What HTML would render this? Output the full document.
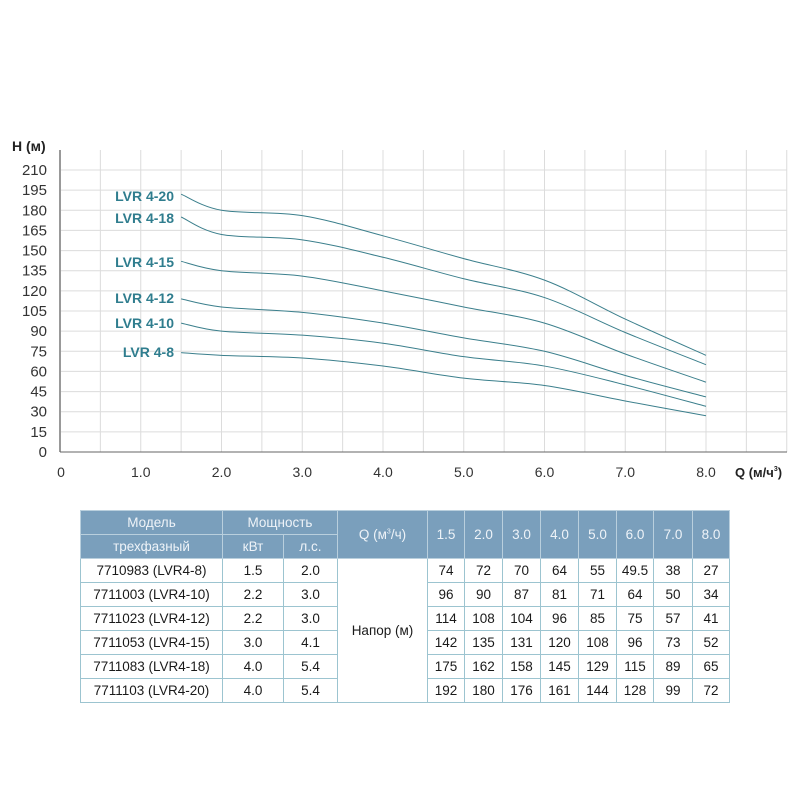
<!DOCTYPE html><html><head><meta charset="utf-8"><style>
body{margin:0;background:#fff;font-family:"Liberation Sans",sans-serif}
#c{position:absolute;left:0;top:0}
table{position:absolute;left:80px;top:510px;border-collapse:collapse;font-family:"Liberation Sans",sans-serif;font-size:13.5px;color:#1a1a1a}
td{border:1px solid #9cc4d0;text-align:center;padding:0;height:23px}
.h td{background:#7a9fbc;color:#eef3f8;border-color:#b9cfdd;height:23px}
</style></head><body>
<svg id="c" width="800" height="800" xmlns="http://www.w3.org/2000/svg"></svg>
<table>
<colgroup><col style="width:142px"><col style="width:61px"><col style="width:54px"><col style="width:90px"><col style="width:37px"><col style="width:38px"><col style="width:38px"><col style="width:38px"><col style="width:38px"><col style="width:37px"><col style="width:39px"><col style="width:37px"></colgroup>
<tr class="h"><td>Модель</td><td colspan="2">Мощность</td><td rowspan="2">Q (м<sup style="font-size:7px">3</sup>/ч)</td><td rowspan="2">1.5</td><td rowspan="2">2.0</td><td rowspan="2">3.0</td><td rowspan="2">4.0</td><td rowspan="2">5.0</td><td rowspan="2">6.0</td><td rowspan="2">7.0</td><td rowspan="2">8.0</td></tr>
<tr class="h"><td>трехфазный</td><td>кВт</td><td>л.с.</td></tr>
<tr><td>7710983 (LVR4-8)</td><td>1.5</td><td>2.0</td><td rowspan="6">Напор (м)</td><td>74</td><td>72</td><td>70</td><td>64</td><td>55</td><td>49.5</td><td>38</td><td>27</td></tr>
<tr><td>7711003 (LVR4-10)</td><td>2.2</td><td>3.0</td><td>96</td><td>90</td><td>87</td><td>81</td><td>71</td><td>64</td><td>50</td><td>34</td></tr>
<tr><td>7711023 (LVR4-12)</td><td>2.2</td><td>3.0</td><td>114</td><td>108</td><td>104</td><td>96</td><td>85</td><td>75</td><td>57</td><td>41</td></tr>
<tr><td>7711053 (LVR4-15)</td><td>3.0</td><td>4.1</td><td>142</td><td>135</td><td>131</td><td>120</td><td>108</td><td>96</td><td>73</td><td>52</td></tr>
<tr><td>7711083 (LVR4-18)</td><td>4.0</td><td>5.4</td><td>175</td><td>162</td><td>158</td><td>145</td><td>129</td><td>115</td><td>89</td><td>65</td></tr>
<tr><td>7711103 (LVR4-20)</td><td>4.0</td><td>5.4</td><td>192</td><td>180</td><td>176</td><td>161</td><td>144</td><td>128</td><td>99</td><td>72</td></tr>
</table>
<script>
const s=document.getElementById('c');let h='';
const X=q=>60+80.75*q, Y=v=>452-v*282/210;
for(let k=1;k<=18;k++){const x=60+40.375*k;h+=`<line x1="${x}" y1="150" x2="${x}" y2="452" stroke="#dcdcdc"/>`;}
for(let v=15;v<=210;v+=15)h+=`<line x1="60" y1="${Y(v)}" x2="787" y2="${Y(v)}" stroke="#dcdcdc"/>`;
for(let v=0;v<=210;v+=15)h+=`<text x="47" y="${Y(v)+5}" text-anchor="end" font-size="15" fill="#333">${v}</text>`;
h+=`<line x1="60" y1="150" x2="60" y2="452" stroke="#999" stroke-width="2"/><line x1="60" y1="452" x2="787" y2="452" stroke="#666"/>`;
h+=`<text x="61" y="477" text-anchor="middle" font-size="14" fill="#333">0</text>`;
for(let q=1;q<=8;q++)h+=`<text x="${X(q)}" y="477" text-anchor="middle" font-size="14" fill="#333">${q}.0</text>`;
h+=`<text x="12" y="151" font-size="14" font-weight="bold" fill="#222">H (м)</text>`;
h+=`<text x="735" y="477" font-size="13" font-weight="bold" fill="#222">Q (м/ч<tspan font-size="7" dy="-6">3</tspan><tspan dy="6">)</tspan></text>`;
const Q=[1.5,2,3,4,5,6,7,8];
const D=[[74,72,70,64,55,49.5,38,27],[96,90,87,81,71,64,50,34],[114,108,104,96,85,75,57,41],[142,135,131,120,108,96,73,52],[175,162,158,145,129,115,89,65],[192,180,176,161,144,128,99,72]];
const L=[['LVR 4-8',357],['LVR 4-10',328],['LVR 4-12',303],['LVR 4-15',267],['LVR 4-18',223],['LVR 4-20',201]];
D.forEach((d,i)=>{const p=Q.map((q,j)=>[X(q),Y(d[j])]);let path=`M${p[0]}`;
for(let j=0;j<p.length-1;j++){const a=p[j-1]||p[j],b=p[j],c=p[j+1],e=p[j+2]||c;
path+=` C${b[0]+(c[0]-a[0])/6},${b[1]+(c[1]-a[1])/6} ${c[0]-(e[0]-b[0])/6},${c[1]-(e[1]-b[1])/6} ${c[0]},${c[1]}`;}
h+=`<path d="${path}" fill="none" stroke="#3b7f8c" stroke-width="1"/>`;
h+=`<text x="174" y="${L[i][1]}" text-anchor="end" font-size="14" font-weight="bold" fill="#2f7d8e">${L[i][0]}</text>`;});
s.innerHTML=h;
</script>
</body></html>
